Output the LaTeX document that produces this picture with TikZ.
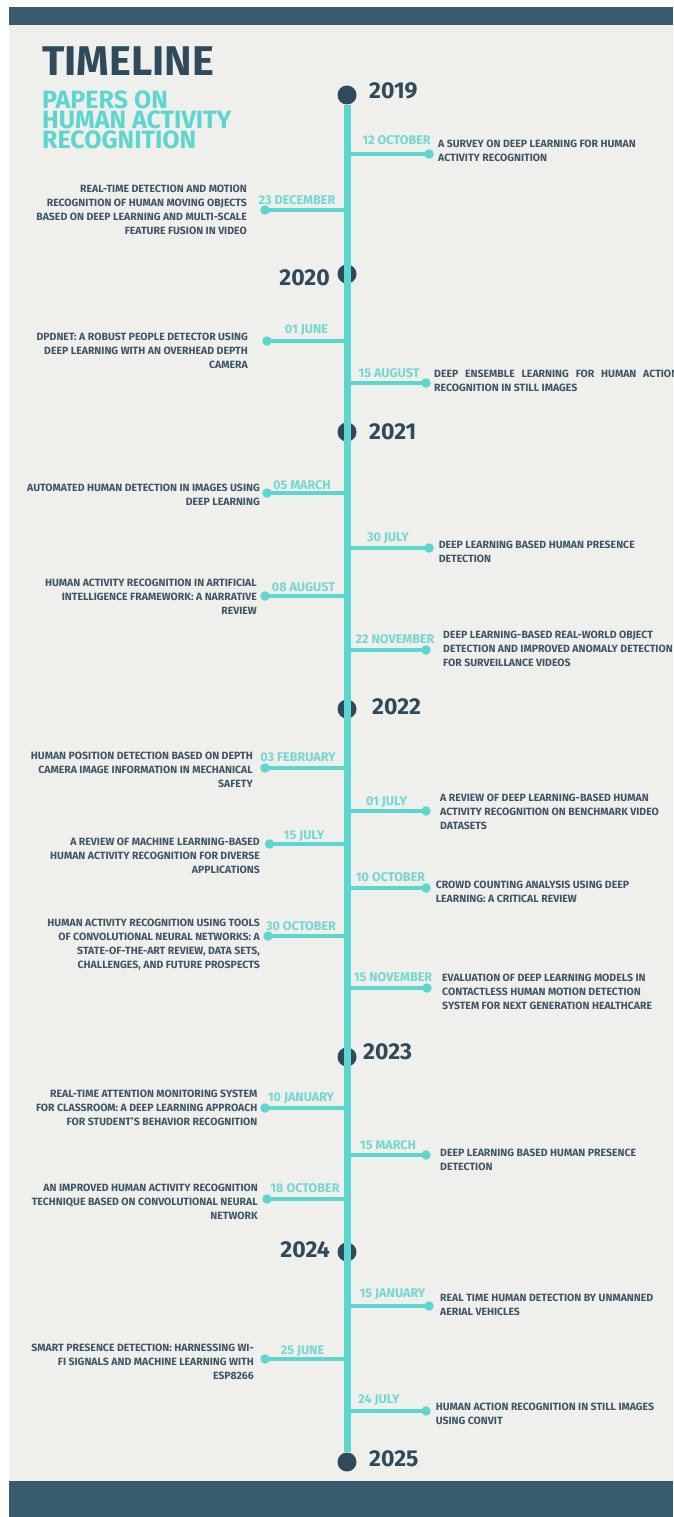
\documentclass[tikz,border=0pt]{standalone}
\usepackage{fontspec}
\setmainfont{Fira Sans}
\definecolor{barc}{HTML}{375A6C}
\definecolor{bgc}{HTML}{EFEFEB}
\definecolor{teal}{HTML}{5CD6CF}
\definecolor{datec}{HTML}{74D8D2}
\definecolor{darkc}{HTML}{2F4A5B}
\definecolor{bodyc}{HTML}{3E5568}
\newcommand{\evR}[9]{%
  \node[junc] (j#1) at (347,#2) {};
  \node[evdot] (d#1) at (#3,#2) {};
  \draw[branch] (j#1) -- (d#1);
  \node[datelab] (t#1) at (#4,#5) {#6};
  \node[bodyR] (b#1) at (#7,#8-3.6) {#9};}
\newcommand{\evL}[9]{%
  \node[junc] (j#1) at (347,#2) {};
  \node[evdot] (d#1) at (#3,#2) {};
  \draw[branch] (j#1) -- (d#1);
  \node[datelab] (t#1) at (#4,#5) {#6};
  \node[bodyL] (b#1) at (#7,#8-3.6) {#9};}
\begin{document}
\begin{tikzpicture}[x=1pt,y=-1pt,
  yeardot/.style={circle,fill=darkc,inner sep=0,minimum size=19pt},
  spine/.style={teal,line width=7pt},
  branch/.style={teal,line width=3.5pt,line cap=round},
  junc/.style={circle,fill=teal,inner sep=0,minimum size=6pt},
  evdot/.style={circle,fill=teal,inner sep=0,minimum size=9.5pt},
  datelab/.style={text=datec,font=\bfseries\fontsize{12.6}{12.6}\selectfont,inner sep=0},
  bodyR/.style={text=bodyc,font=\bfseries\fontsize{10.5}{14}\selectfont,inner sep=0,anchor=north west,align=left},
  bodyL/.style={text=bodyc,font=\bfseries\fontsize{10.5}{14}\selectfont,inner sep=0,anchor=north east,align=right},
  yearlab/.style={text=darkc,font=\bfseries\fontsize{23}{23}\selectfont,inner sep=0},
]
\useasboundingbox (0,0) rectangle (673,1517);
\fill[white] (0,0) rectangle (673,1517);
\fill[bgc] (9,25) rectangle (673,1481);
\fill[barc] (9,7) rectangle (673,25);
\fill[barc] (9,1481) rectangle (673,1517);
% title
\node[text=darkc,font=\bfseries\fontsize{41.5}{41.5}\selectfont,inner sep=0,anchor=west] (title) at (42,61.5) {TIMELINE};
\node[text=teal,font=\bfseries\fontsize{25}{20}\selectfont,inner sep=0,anchor=north west,align=left] (subtitle) at (42,90.7) {PAPERS ON\\HUMAN ACTIVITY\\RECOGNITION};
% years
\node[yeardot] (y2019) at (347,95) {};
\node[yeardot] (y2020) at (347,274) {};
\node[yeardot] (y2021) at (347,432) {};
\node[yeardot] (y2022) at (347,709) {};
\node[yeardot] (y2023) at (347,1057) {};
\node[yeardot] (y2024) at (347,1252) {};
\node[yeardot] (y2025) at (347,1462) {};
\draw[spine] (y2019) -- (y2025);
\node[yearlab,anchor=west] (l2019) at (369,91) {2019};
\node[yearlab,anchor=east] (l2020) at (330,278) {2020};
\node[yearlab,anchor=west] (l2021) at (369,432) {2021};
\node[yearlab,anchor=west] (l2022) at (372,707) {2022};
\node[yearlab,anchor=west] (l2023) at (363,1052) {2023};
\node[yearlab,anchor=east] (l2024) at (330,1250) {2024};
\node[yearlab,anchor=west] (l2025) at (369,1459) {2025};
% right events
\evR{r1}{154}{429}{396.5}{140}{12 OCTOBER}{438}{143}{A SURVEY ON DEEP LEARNING FOR HUMAN\\ACTIVITY RECOGNITION}
\evR{r2}{383}{426}{389}{373}{15 AUGUST}{434}{373}{\makebox[244pt][s]{DEEP ENSEMBLE LEARNING FOR HUMAN ACTION}\\RECOGNITION IN STILL IMAGES}
\evR{r3}{548}{429}{388}{538}{30 JULY}{438.6}{544}{DEEP LEARNING BASED HUMAN PRESENCE\\DETECTION}
\evR{r4}{650}{426}{395}{639}{22 NOVEMBER}{443}{634}{DEEP LEARNING-BASED REAL-WORLD OBJECT\\DETECTION AND IMPROVED ANOMALY DETECTION\\FOR SURVEILLANCE VIDEOS}
\evR{r5}{811}{426}{386.5}{802}{01 JULY}{440}{797}{A REVIEW OF DEEP LEARNING-BASED HUMAN\\ACTIVITY RECOGNITION ON BENCHMARK VIDEO\\DATASETS}
\evR{r6}{888}{426}{390.5}{877}{10 OCTOBER}{435.6}{884}{CROWD COUNTING ANALYSIS USING DEEP\\LEARNING: A CRITICAL REVIEW}
\evR{r7}{988}{427}{393}{977}{15 NOVEMBER}{442}{977}{EVALUATION OF DEEP LEARNING MODELS IN\\CONTACTLESS HUMAN MOTION DETECTION\\SYSTEM FOR NEXT GENERATION HEALTHCARE}
\evR{r8}{1155}{426}{388}{1145}{15 MARCH}{440}{1152}{DEEP LEARNING BASED HUMAN PRESENCE\\DETECTION}
\evR{r9}{1306}{429}{392.5}{1294}{15 JANUARY}{440}{1297}{REAL TIME HUMAN DETECTION BY UNMANNED\\AERIAL VEHICLES}
\evR{r10}{1411}{426}{379}{1400}{24 JULY}{435.6}{1406}{HUMAN ACTION RECOGNITION IN STILL IMAGES\\USING CONVIT}
% left events
\evL{l1}{210}{265}{297}{200}{23 DECEMBER}{247}{188}{REAL-TIME DETECTION AND MOTION\\RECOGNITION OF HUMAN MOVING OBJECTS\\BASED ON DEEP LEARNING AND MULTI-SCALE\\FEATURE FUSION IN VIDEO}
\evL{l2}{341}{267}{306.5}{330}{01 JUNE}{248}{336}{DPDNET: A ROBUST PEOPLE DETECTOR USING\\DEEP LEARNING WITH AN OVERHEAD DEPTH\\CAMERA}
\evL{l3}{493}{267}{302}{485}{05 MARCH}{260}{487}{AUTOMATED HUMAN DETECTION IN IMAGES USING\\DEEP LEARNING}
\evL{l4}{596}{265}{303.5}{587}{08 AUGUST}{257}{582}{HUMAN ACTIVITY RECOGNITION IN ARTIFICIAL\\INTELLIGENCE FRAMEWORK: A NARRATIVE\\REVIEW}
\evL{l5}{768}{265}{298}{757}{03 FEBRUARY}{253}{755}{HUMAN POSITION DETECTION BASED ON DEPTH\\CAMERA IMAGE INFORMATION IN MECHANICAL\\SAFETY}
\evL{l6}{844}{269.5}{304}{836}{15 JULY}{260}{841}{A REVIEW OF MACHINE LEARNING-BASED\\HUMAN ACTIVITY RECOGNITION FOR DIVERSE\\APPLICATIONS}
\evL{l7}{936}{268}{301}{926}{30 OCTOBER}{260}{922}{HUMAN ACTIVITY RECOGNITION USING TOOLS\\OF CONVOLUTIONAL NEURAL NETWORKS: A\\STATE-OF-THE-ART REVIEW, DATA SETS,\\CHALLENGES, AND FUTURE PROSPECTS}
\evL{l8}{1108}{265}{301}{1098}{10 JANUARY}{257.5}{1093}{REAL-TIME ATTENTION MONITORING SYSTEM\\FOR CLASSROOM: A DEEP LEARNING APPROACH\\FOR STUDENT'S BEHAVIOR RECOGNITION}
\evL{l9}{1199}{267}{305}{1188}{18 OCTOBER}{258}{1187}{AN IMPROVED HUMAN ACTIVITY RECOGNITION\\TECHNIQUE BASED ON CONVOLUTIONAL NEURAL\\NETWORK}
\evL{l10}{1359}{265}{302.5}{1351}{25 JUNE}{254}{1347}{SMART PRESENCE DETECTION: HARNESSING WI-\\FI SIGNALS AND MACHINE LEARNING WITH\\ESP8266}
\end{tikzpicture}
\end{document}
